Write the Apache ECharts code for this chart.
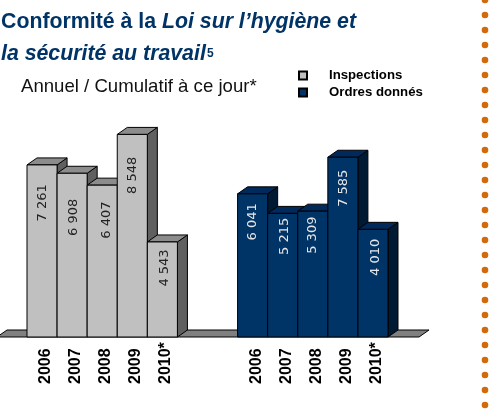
<!DOCTYPE html>
<html><head><meta charset="utf-8">
<style>html,body{margin:0;padding:0;background:#fff}#c{width:490px;height:413px}</style>
<script src="https://cdn.jsdelivr.net/npm/echarts@6/dist/echarts.min.js"></script>
</head><body><div id="c"></div>
<script>
const categories = ['2006','2007','2008','2009','2010*','','','2006','2007','2008','2009','2010*'];
// Drawn bar heights (the 2010* bars do not follow their printed labels)
const inspections = [7261, 6908, 6407, 8548, 4010];
const orders = [6041, 5215, 5309, 7585, 4543];
const inspectionLabels = ['7 261','6 908','6 407','8 548','4 543'];
const orderLabels = ['6 041','5 215','5 309','7 585','4 010'];
const inspectionIndex = [0,1,2,3,4];
const orderIndex = [7,8,9,10,11];

const FONT = '"Liberation Sans", Arial, sans-serif';
const DX = 10, DY = 7;
const labelDrop = {Inspections:[38,44,35,41,26], 'Ordres donnés':[28,23,24,31,28]};
const labelShift = {Inspections:[1,1,4,0,2], 'Ordres donnés':[0,2,0,1,3]};

function box(name, labels, front, top, side, textColor){
  return function(params, api){
    const i = params.dataIndex;
    const p = api.coord([api.value(0), api.value(1)]);
    const b = api.coord([api.value(0), 0]);
    const w = api.size([1,0])[0];
    const x0 = p[0]-w/2, x1 = p[0]+w/2, yT = p[1], yB = b[1];
    const st = c => ({fill:c, stroke:'#000', lineWidth:1});
    return {type:'group', children:[
      {type:'polygon', shape:{points:[[x1,yT],[x1+DX,yT-DY],[x1+DX,yB-DY],[x1,yB]]}, style:st(side)},
      {type:'polygon', shape:{points:[[x0,yT],[x0+DX,yT-DY],[x1+DX,yT-DY],[x1,yT]]}, style:st(top)},
      {type:'rect', shape:{x:x0,y:yT,width:w,height:yB-yT}, style:st(front)},
      {type:'text', x:p[0]+labelShift[name][i], y:yT+labelDrop[name][i], rotation:Math.PI/2,
        style:{text:labels[i], fill:textColor, font:'13px "DejaVu Sans", sans-serif', align:'center', verticalAlign:'middle'}}
    ]};
  };
}

const chart = echarts.init(document.getElementById('c'), null, {renderer:'canvas'});
const dots = [];
for (let k=0;k<28;k++) dots.push({type:'circle', shape:{cx:485, cy:15*k, r:3.3}, style:{fill:'#D2690A'}, silent:true});

chart.setOption({
  animation:false,
  backgroundColor:'#fff',
  grid:{left:27, width:361, top:100, height:237, containLabel:false},
  xAxis:{type:'category', data:categories, boundaryGap:true,
    axisLine:{show:false}, axisTick:{show:false}, splitLine:{show:false},
    axisLabel:{interval:0, rotate:90, align:'left', verticalAlign:'top', lineHeight:7, margin:47,
      fontFamily:'Liberation Sans', fontWeight:'bold', fontSize:16, color:'#000'}},
  yAxis:{type:'value', min:0, max:10000, show:false},
  legend:{orient:'vertical', left:298, top:69, padding:0, itemWidth:8, itemHeight:8, itemGap:4, selectedMode:false, icon:'rect',
    textStyle:{fontFamily:'Liberation Sans', fontWeight:'bold', fontSize:13.2, color:'#000', padding:[0,0,0,17]},
    data:['Inspections','Ordres donnés']},
  series:[
    {type:'custom', name:'floor', silent:true, z:1, clip:false, data:[[0,0]], encode:{x:0,y:1},
      renderItem:function(params, api){
        const b = api.coord([0,0]);
        const yB = b[1], yK = yB-DY;
        return {type:'polygon', shape:{points:[[-3,yB],[-3+DX,yK],[429,yK],[419,yB]]},
          style:{fill:'#808080', stroke:'#000', lineWidth:1}};
      }},
    {type:'custom', name:'Inspections', z:2, clip:false,
      data:inspections.map((v,i)=>[inspectionIndex[i],v]), encode:{x:0,y:1},
      itemStyle:{color:'#C0C0C0', borderColor:'#000', borderWidth:1},
      renderItem:box('Inspections', inspectionLabels, '#C0C0C0', '#8C8C8C', '#606060', '#222')},
    {type:'custom', name:'Ordres donnés', z:2, clip:false,
      data:orders.map((v,i)=>[orderIndex[i],v]), encode:{x:0,y:1},
      itemStyle:{color:'#003366', borderColor:'#000', borderWidth:1},
      renderItem:box('Ordres donnés', orderLabels, '#003366', '#00295C', '#001A33', '#E6E6E6')}
  ],
  graphic:[
    {type:'text', left:1, top:12, style:{text:'{a|Conformité à la }{b|Loi sur l’hygiène et}',
      rich:{a:{font:'bold 21.3px '+FONT, fill:'#003366'}, b:{font:'italic bold 21.3px '+FONT, fill:'#003366'}}}},
    {type:'text', left:1, top:44, style:{text:'la sécurité au travail', font:'italic bold 21.3px '+FONT, fill:'#003366'}},
    {type:'text', left:207, top:48, style:{text:'5', font:'bold 12px '+FONT, fill:'#003366'}},
    {type:'text', left:21, top:77, style:{text:'Annuel / Cumulatif à ce jour*', font:'18.6px '+FONT, fill:'#111'}},
    ...dots
  ]
});
</script></body></html>
